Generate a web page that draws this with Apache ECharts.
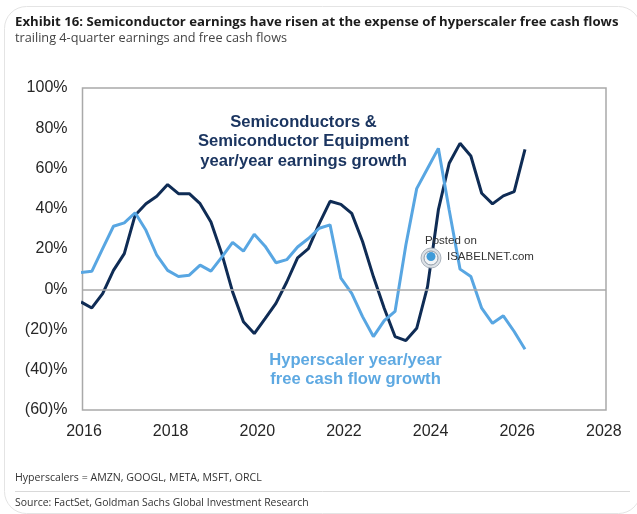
<!DOCTYPE html>
<html>
<head>
<meta charset="utf-8">
<style>html,body{margin:0;padding:0;background:#fff}#chart{width:637px;height:514px}</style>
<script src="https://cdn.jsdelivr.net/npm/echarts@6/dist/echarts.min.js"></script>
</head>
<body>
<div id="chart"></div>
<script>
// Year position of each trailing-quarter reading
const quarters = [2015.93,2016.18,2016.43,2016.68,2016.93,2017.18,2017.43,2017.68,2017.93,2018.18,2018.43,2018.68,2018.93,
  2019.18,2019.43,2019.68,2019.93,2020.18,2020.43,2020.68,2020.93,2021.18,2021.43,2021.68,2021.93,2022.18,2022.43,2022.68,
  2022.93,2023.18,2023.43,2023.68,2023.93,2024.18,2024.43,2024.68,2024.93,2025.18,2025.43,2025.68,2025.93,2026.18];
// Year/year earnings growth, semiconductors and equipment (%)
const semis = [-6.3,-9.3,-2.2,9.4,17.7,36.8,42.5,46.2,52,47.5,47.5,42.5,33.4,17.7,-1.3,-16.2,-22,-14.6,-7,3.6,15.6,20.2,32.6,
  43.7,42.2,37.7,23.7,6.3,-9.4,-23.5,-25.5,-19.4,1.3,39.4,62.6,72.5,66.2,47.7,42.4,46.4,48.5,69.5];
// Year/year free cash flow growth, hyperscalers (%)
const hyperscaler = [8.3,8.9,20.2,31.3,33,38,29.3,16.9,9.4,6.3,7,12,9,16,23.3,18.9,27.3,21.4,13.2,14.7,21,25.2,30.3,
  32,5.5,-2,-13.6,-23.5,-15.6,-11,22,50,60,70,39.4,10,6.3,-9.4,-16.9,-13.2,-21,-29.8];
const yearTicks = [2016,2018,2020,2022,2024,2026,2028];

const NAVY = '#0f2c55', SKY = '#58a6e2', ARIAL = '"Liberation Sans", Arial, sans-serif', BODY = '"Open Sans", sans-serif';
const pairs = v => v.map((y, i) => [quarters[i], y]);

function caption(x, y, text, font, color, align) {
  return { type: 'text', x, y, z: 20, style: { text, font, fill: color, align: align || 'left', verticalAlign: 'middle' } };
}

const chart = echarts.init(document.getElementById('chart'), null, { renderer: 'canvas' });
chart.setOption({
  animation: false,
  backgroundColor: '#fff',
  grid: { left: 82.5, top: 88, width: 523.5, height: 322, show: true, borderColor: '#a9a9a9', borderWidth: 1.5, backgroundColor: 'transparent' },
  xAxis: {
    type: 'value', min: 2015.965, max: 2028.05,
    axisLine: { show: false }, axisTick: { show: false }, splitLine: { show: false },
    axisLabel: { customValues: yearTicks, formatter: v => String(Math.round(v)), color: '#262626', fontFamily: ARIAL, fontSize: 16, margin: 14 }
  },
  yAxis: {
    type: 'value', min: -60, max: 100, interval: 20,
    axisLine: { show: false }, axisTick: { show: false }, splitLine: { show: false },
    axisLabel: { formatter: v => v < 0 ? '(' + (-v) + ')%' : v + '%', color: '#262626', fontFamily: ARIAL, fontSize: 16, margin: 15, padding: [4, 0, 0, 0] }
  },
  series: [
    { name: 'Semiconductors', type: 'line', data: pairs(semis), symbol: 'none', smooth: false, z: 3,
      lineStyle: { color: NAVY, width: 3 },
      markLine: { silent: true, symbol: 'none', label: { show: false }, lineStyle: { color: '#a9a9a9', width: 1.5, type: 'solid' }, data: [{ yAxis: 0 }] } },
    { name: 'Hyperscalers', type: 'line', data: pairs(hyperscaler), symbol: 'none', smooth: false, z: 4,
      lineStyle: { color: SKY, width: 3 } }
  ],
  graphic: [
    { type: 'rect', z: -1, shape: { x: 4.5, y: 6.5, width: 636, height: 507, r: 22 }, style: { fill: '#fff', stroke: '#e4e4e4', lineWidth: 1 } },
    caption(15, 22, 'Exhibit 16: Semiconductor earnings have risen at the expense of hyperscaler free cash flows', 'bold 13.2px ' + BODY, '#1c1c1c'),
    caption(15, 38.5, 'trailing 4-quarter earnings and free cash flows', '12.7px ' + BODY, '#444'),
    caption(303.5, 122, 'Semiconductors &', 'bold 16.6px ' + ARIAL, '#1b3560', 'center'),
    caption(303.5, 141, 'Semiconductor Equipment', 'bold 16.6px ' + ARIAL, '#1b3560', 'center'),
    caption(303.5, 161, 'year/year earnings growth', 'bold 16.6px ' + ARIAL, '#1b3560', 'center'),
    caption(355.5, 360.5, 'Hyperscaler year/year', 'bold 16.6px ' + ARIAL, '#5ea9e2', 'center'),
    caption(355.5, 379.5, 'free cash flow growth', 'bold 16.6px ' + ARIAL, '#5ea9e2', 'center'),
    caption(425, 240.5, 'Posted on', '11.5px ' + ARIAL, '#333'),
    caption(447, 256.5, 'ISABELNET.com', '11.5px ' + ARIAL, '#333'),
    { type: 'circle', z: 19, shape: { cx: 431, cy: 258, r: 10 }, style: { fill: '#dde2e7', stroke: '#aab3bd', lineWidth: 1 } },
    { type: 'circle', z: 19, shape: { cx: 431, cy: 258, r: 7 }, style: { fill: '#f2f4f6', stroke: '#8f9aa6', lineWidth: 1 } },
    { type: 'circle', z: 19, shape: { cx: 431, cy: 256.5, r: 4.5 }, style: { fill: '#3f9bd8' } },
    { type: 'line', z: 20, shape: { x1: 15, y1: 491.5, x2: 630, y2: 491.5 }, style: { stroke: '#d9d9d9', lineWidth: 1 } },
    caption(15, 477.5, 'Hyperscalers = AMZN, GOOGL, META, MSFT, ORCL', '10.6px ' + BODY, '#333'),
    caption(15, 503.5, 'Source: FactSet, Goldman Sachs Global Investment Research', '10.45px ' + BODY, '#333')
  ]
});
</script>
</body>
</html>
